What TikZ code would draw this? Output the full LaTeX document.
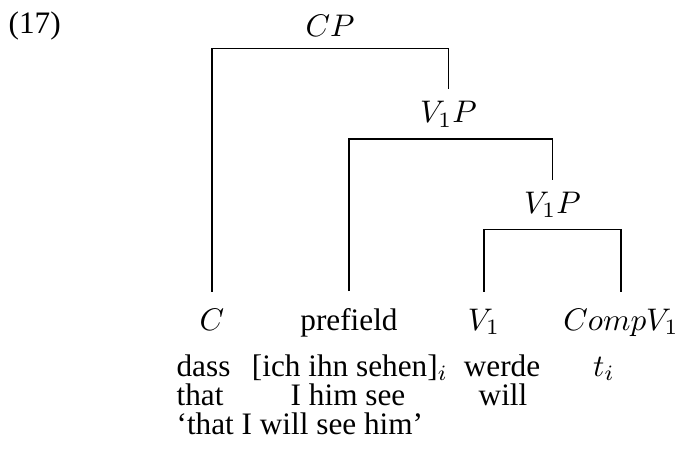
\documentclass[tikz,border=0pt]{standalone}
\usepackage{fontspec}
\setmainfont{Liberation Serif}

\tikzset{
  phrase/.style={anchor=base, inner xsep=0pt, inner ysep=3.6pt},
  leaf/.style={anchor=base, inner xsep=0pt, inner ysep=5.2pt},
  gloss/.style={anchor=base, inner sep=0pt},
  glossl/.style={anchor=base west, inner sep=0pt},
  branch/.style={draw=black, line width=0.4pt},
}

\begin{document}
\begin{tikzpicture}[x=0.32pt, y=-0.32pt]
  \useasboundingbox (0,0) rectangle (677,449);

  % example number
  \node[glossl] (num) at (8,33.3) {(17)};

  % phrase labels
  \node[phrase] (cp)   at (330,36.5)   {$CP$};
  \node[phrase] (vpa)  at (448.5,122.5) {$V_1P$};
  \node[phrase] (vpb)  at (552.5,213.2) {$V_1P$};

  % terminal categories
  \node[leaf] (c)     at (212,330) {$C$};
  \node[leaf] (pre)   at (349,330) {prefield};
  \node[leaf] (v)     at (484,330) {$V_1$};
  \node[leaf] (comp)  at (621,330) {$CompV_1$};

  % branches
  \draw[branch] (c.north) |- (cp.south) -| (vpa.north);
  \draw[branch] (pre.north) |- (vpa.south) -| (vpb.north);
  \draw[branch] (v.north) |- (vpb.south) -| (comp.north);

  % German words
  \node[glossl] (g1) at (176,376) {dass};
  \node[gloss]  (g2) at (350,376) {[ich ihn sehen]$_i$};
  \node[gloss]  (g3) at (502,376) {werde};
  \node[gloss]  (g4) at (604,376) {$t_i$};

  % word-by-word gloss
  \node[glossl] (e1) at (176,405) {that};
  \node[gloss]  (e2) at (348,405) {I him see};
  \node[gloss]  (e3) at (503,405) {will};

  % free translation
  \node[glossl] (tr) at (176,434) {`that I will see him'};
\end{tikzpicture}
\end{document}
